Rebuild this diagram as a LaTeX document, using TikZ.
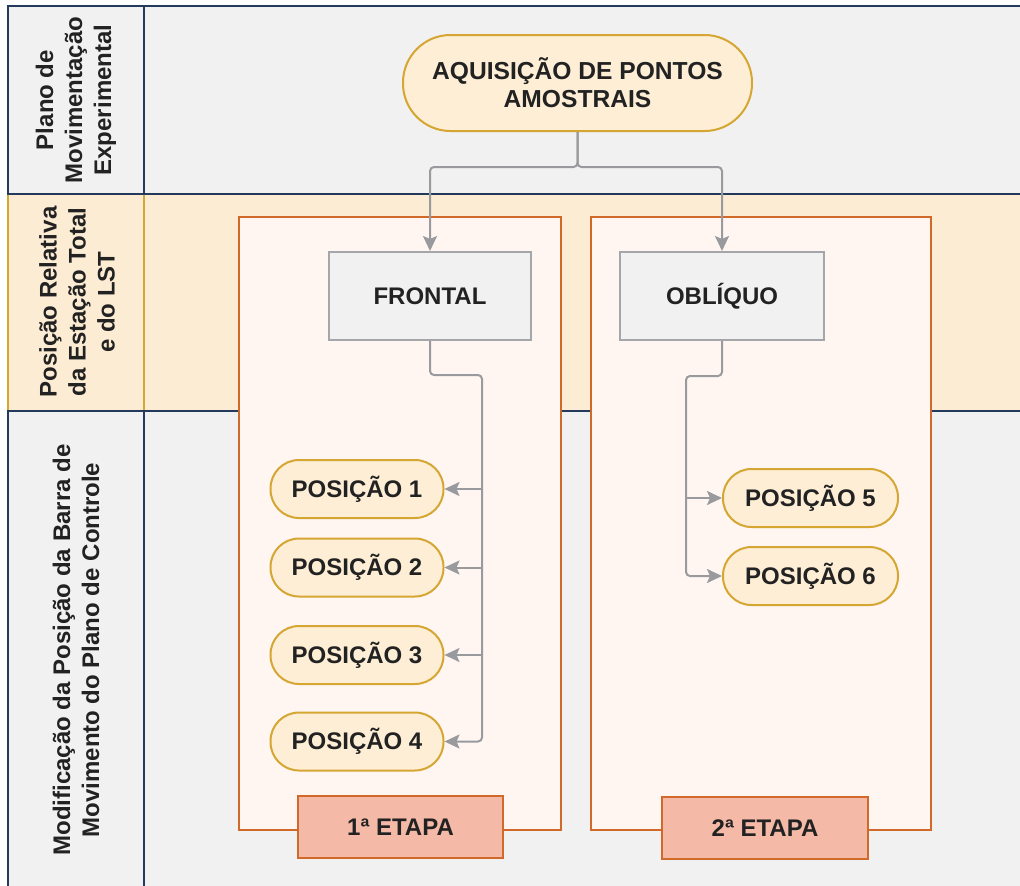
\documentclass[tikz,border=0pt]{standalone}
\usepackage{fontspec}
\setmainfont{Liberation Sans}
\usetikzlibrary{arrows.meta,positioning,calc}
\definecolor{rowgray}{HTML}{F1F1F1}
\definecolor{navy}{HTML}{233A5C}
\definecolor{goldb}{HTML}{D6A633}
\definecolor{beige}{HTML}{FCECD3}
\definecolor{stagefill}{HTML}{FFF6F1}
\definecolor{orangeb}{HTML}{D0692A}
\definecolor{etapafill}{HTML}{F4B9A7}
\definecolor{boxgray}{HTML}{F1F1F1}
\definecolor{boxborder}{HTML}{A5A6AA}
\definecolor{conngray}{HTML}{999A9E}
\definecolor{pillfill}{HTML}{FDEED5}
\definecolor{txt}{HTML}{222222}
\tikzset{
  txtfont/.style={font=\fontsize{24}{28}\selectfont\bfseries, text=txt},
  hdr/.style={txtfont, rotate=90, align=center, font=\fontsize{24}{29}\selectfont\bfseries},
  pill/.style={txtfont, draw=goldb, fill=pillfill, line width=2pt, rounded corners=28.5pt, minimum height=58pt, inner sep=0pt},
  graybox/.style={txtfont, draw=boxborder, fill=boxgray, line width=2pt, minimum height=88pt, inner sep=0pt},
  stagebox/.style={draw=orangeb, fill=stagefill, line width=2pt},
  etapa/.style={txtfont, draw=orangeb, fill=etapafill, line width=2pt, minimum width=205pt, minimum height=62pt, inner sep=0pt},
  arr/.style={-{Stealth[length=15pt,width=14pt,inset=3pt]}, conngray, line width=2pt, rounded corners=4pt}
}
\begin{document}
\begin{tikzpicture}[x=1pt,y=-1pt]
\useasboundingbox (0,0) rectangle (1020,886);
\clip (0,0) rectangle (1020,886);
\fill[white] (0,0) rectangle (1020,886);
% lanes
\fill[rowgray] (8,6) rectangle (1040,194);
\fill[beige] (8,194) rectangle (1040,411);
\fill[rowgray] (8,411) rectangle (1040,900);
\draw[goldb, line width=2pt] (8,194) -- (8,411) (144,194) -- (144,411);
\draw[navy, line width=2pt] (1040,6) -- (8,6) -- (8,194) -- (1040,194);
\draw[navy, line width=2pt] (144,6) -- (144,194);
\draw[navy, line width=2pt] (1040,411) -- (8,411) -- (8,900);
\draw[navy, line width=2pt] (144,411) -- (144,900);
% header labels
\node[hdr] (h1) at (76,100) {Plano de\\Movimentação\\Experimental};
\node[hdr] (h2) at (77,302) {Posição Relativa\\da Estação Total\\e do LST};
\node[hdr] (h3) at (76,650) {Modificação da Posição da Barra de\\Movimento do Plano de Controle};
% stage boxes
\node[stagebox, minimum width=322pt, minimum height=613pt, inner sep=0pt] (s1) at (400,523.5) {};
\node[stagebox, minimum width=340pt, minimum height=613pt, inner sep=0pt] (s2) at (761,523.5) {};
% nodes
\node[pill, rounded corners=47.5pt, minimum width=349pt, minimum height=96pt, align=center, font=\fontsize{24.6}{28}\selectfont\bfseries] (aq) at (577.5,83) {AQUISIÇÃO DE PONTOS\\AMOSTRAIS};
\node[graybox, minimum width=202pt] (fr) at (430,296) {FRONTAL};
\node[graybox, minimum width=204pt] (ob) at (722,296) {OBLÍQUO};
\node[pill, minimum width=173pt] (p1) at (357,489) {POSIÇÃO 1};
\node[pill, minimum width=173pt] (p2) at (357,567.5) {POSIÇÃO 2};
\node[pill, minimum width=173pt] (p3) at (357,655) {POSIÇÃO 3};
\node[pill, minimum width=173pt] (p4) at (357,741.5) {POSIÇÃO 4};
\node[pill, minimum width=175pt] (p5) at (810.5,498) {POSIÇÃO 5};
\node[pill, minimum width=175pt] (p6) at (810.5,576) {POSIÇÃO 6};
\node[etapa] (e1) at (400.5,827) {1ª ETAPA};
\node[etapa, minimum width=206pt] (e2) at (765,828) {2ª ETAPA};
% connectors
\coordinate (jA) at (577.5,167);
\coordinate (tL) at (482,375);
\coordinate (tR) at (686,376);
\draw[arr] (aq.south) -- (jA) -| (fr.north);
\draw[arr] (aq.south) -- (jA) -| (ob.north);
\draw[arr] (fr.south) |- (tL) -- (tL |- p4.east) -- (p4.east);
\draw[arr] (tL |- p1.east) -- (p1.east);
\draw[arr] (tL |- p2.east) -- (p2.east);
\draw[arr] (tL |- p3.east) -- (p3.east);
\draw[arr] (ob.south) |- (tR) -- (tR |- p6.west) -- (p6.west);
\draw[arr] (tR |- p5.west) -- (p5.west);
\end{tikzpicture}
\end{document}
